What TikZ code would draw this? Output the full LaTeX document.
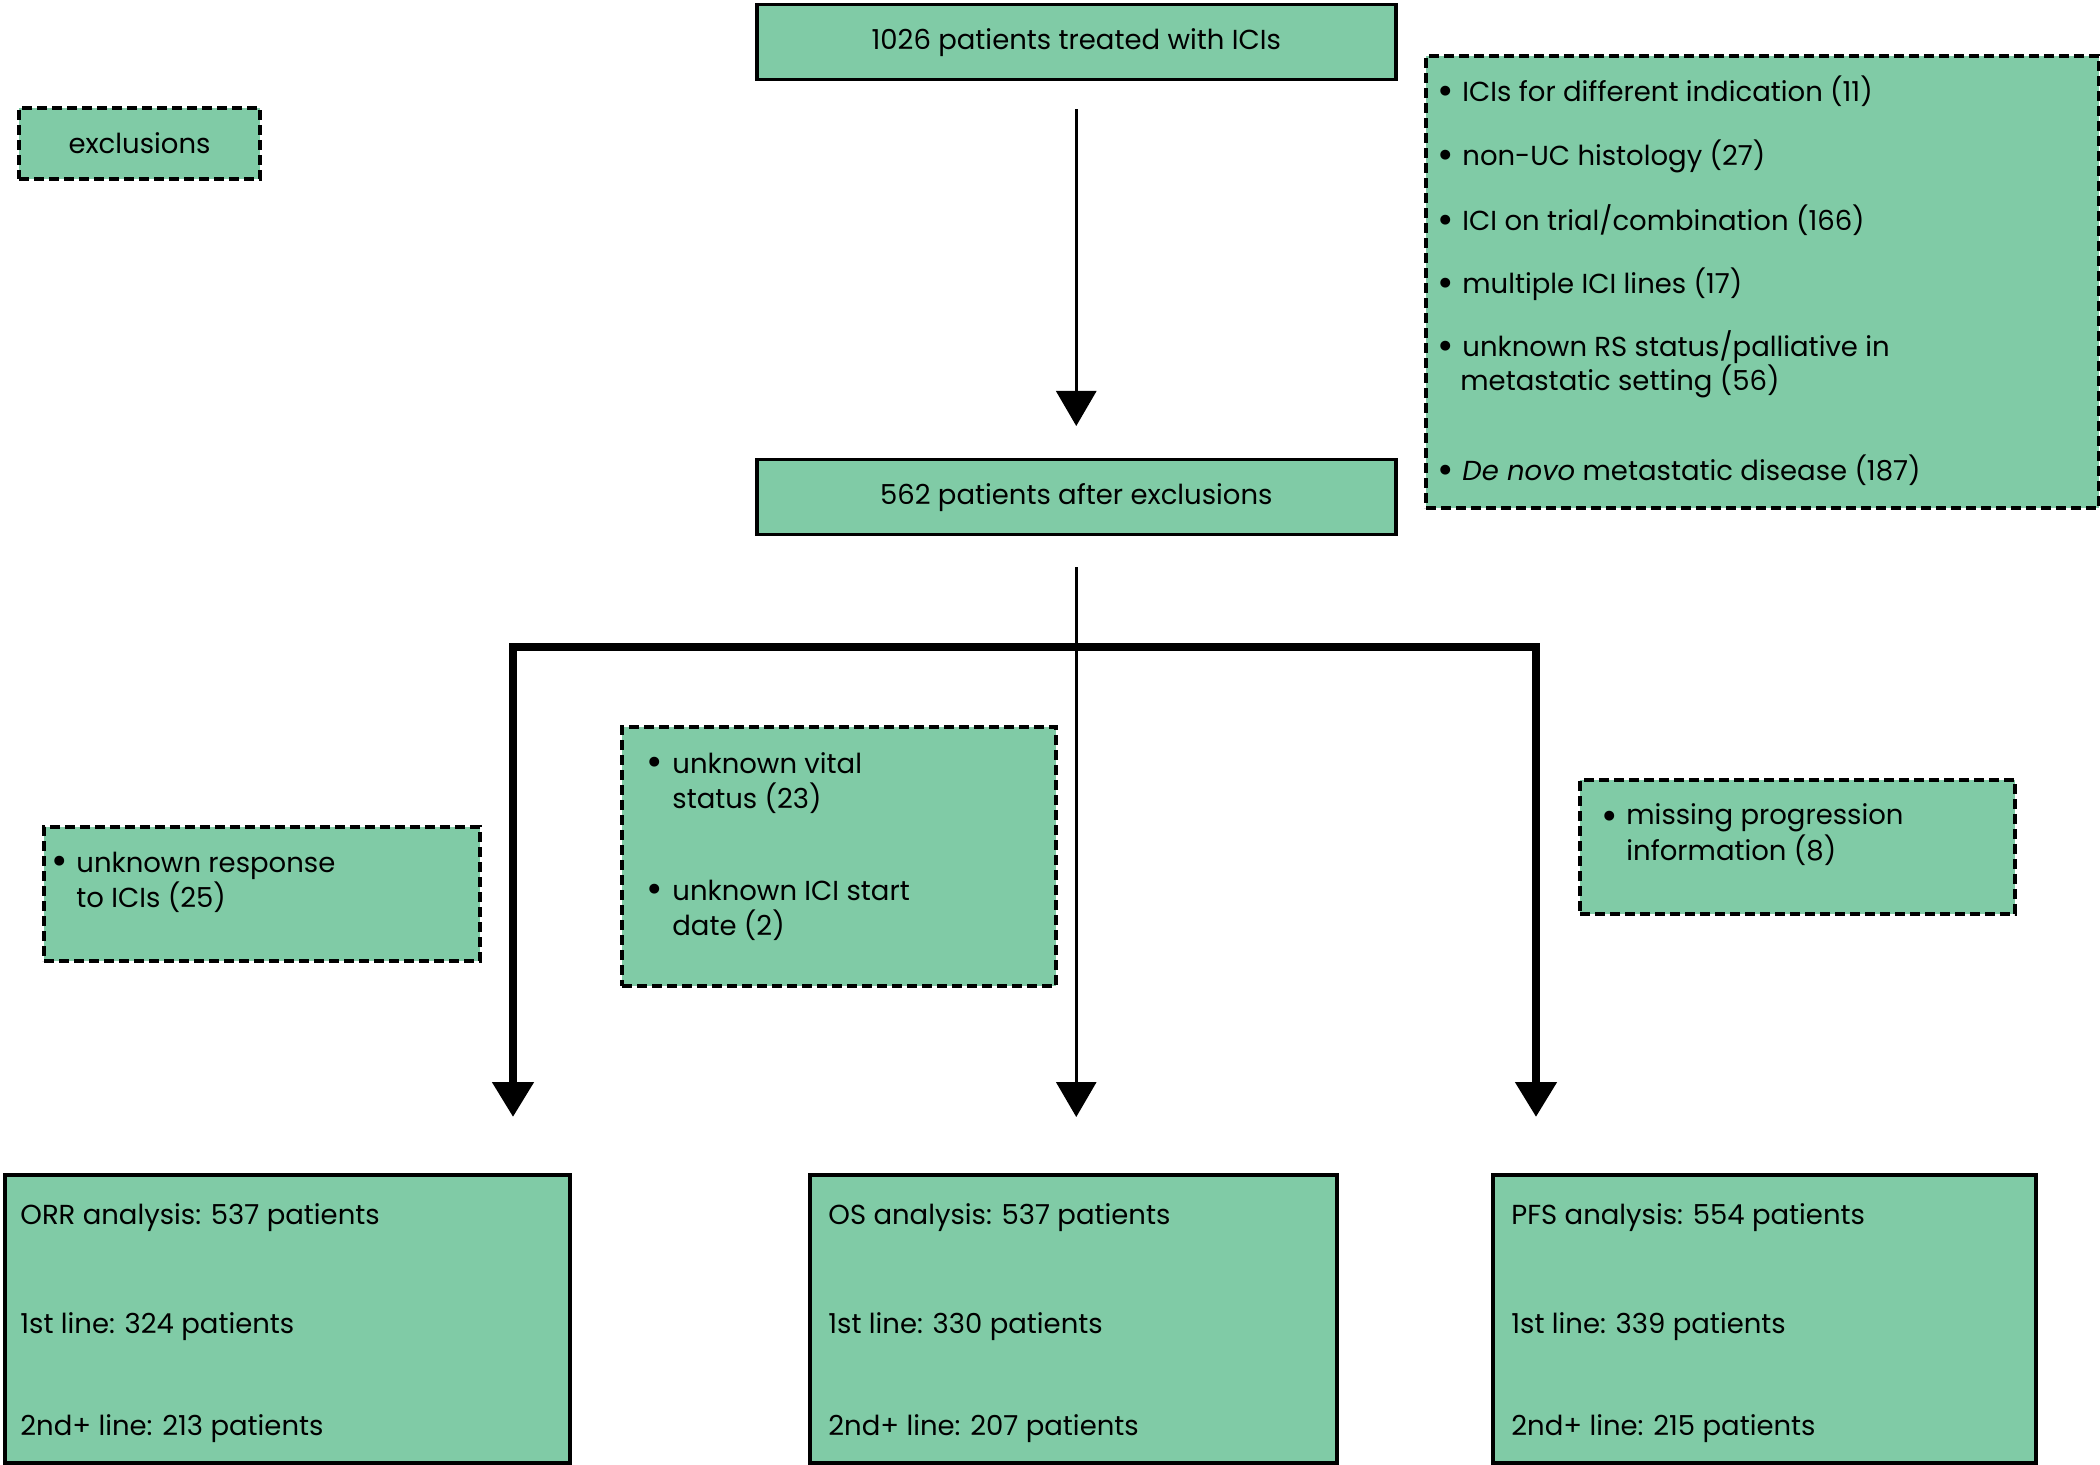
\documentclass[tikz,border=0pt]{standalone}
\usepackage{fontspec}
\setmainfont{Poppins}
\usetikzlibrary{arrows.meta}
\definecolor{boxgreen}{RGB}{128,203,166}
\begin{document}
\begin{tikzpicture}[x=0.5pt,y=-0.5pt,
  solidbox/.style={draw=black, fill=boxgreen, line width=1.75pt, inner sep=0pt, anchor=north west, font=\fontsize{13.75}{16}\selectfont},
  dashbox/.style={draw=black, fill=boxgreen, line width=2pt, dash pattern=on 5pt off 2.5pt, inner sep=0pt, anchor=north west, font=\fontsize{13.75}{16}\selectfont},
  lbl/.style={anchor=base west, inner sep=0pt, yshift=-1.5pt, align=left, font=\fontsize{13.75}{17.5}\selectfont},
  bul/.style={anchor=center, inner sep=0pt, yshift=-2.2pt, font=\fontsize{20}{20}\selectfont},
  thinarrow/.style={line width=1.5pt, -{Triangle[width=20pt,length=17.5pt]}},
  bar/.style={line width=4pt, {Triangle[width=20pt,length=17.5pt]}-{Triangle[width=20pt,length=17.5pt]}}
]
\useasboundingbox (0,0) rectangle (2100,1465);

% boxes
\node[solidbox, minimum width=319.5pt, minimum height=37.5pt] (top) at (755,3) {1026 patients treated with ICIs};
\node[solidbox, minimum width=319.5pt, minimum height=37.5pt] (mid) at (755,458) {562 patients after exclusions};
\node[dashbox, minimum width=120.5pt, minimum height=35.5pt] (excl) at (17,106) {exclusions};
\node[dashbox, minimum width=336.5pt, minimum height=226pt] (exlist) at (1424,54) {};
\node[dashbox, minimum width=218pt, minimum height=67pt] (exorr) at (42,825) {};
\node[dashbox, minimum width=217pt, minimum height=129.5pt] (exos) at (620,725) {};
\node[dashbox, minimum width=217.5pt, minimum height=67pt] (expfs) at (1578,778) {};
\node[solidbox, minimum width=282.5pt, minimum height=144pt] (orr) at (3,1173) {};
\node[solidbox, minimum width=263.5pt, minimum height=144pt] (os) at (808,1173) {};
\node[solidbox, minimum width=271.5pt, minimum height=144pt] (pfs) at (1491,1173) {};

% exclusion list (multi-line nodes are placed at the baseline of their last line)
\node[bul] (b1) at (1446,91) {•};
\node[lbl] (t1) at (1462,99) {ICIs for different indication (11)};
\node[bul] (b2) at (1446,155) {•};
\node[lbl] (t2) at (1462,163) {non-UC histology (27)};
\node[bul] (b3) at (1446,220) {•};
\node[lbl] (t3) at (1462,228) {ICI on trial/combination (166)};
\node[bul] (b4) at (1446,283) {•};
\node[lbl] (t4) at (1462,291) {multiple ICI lines (17)};
\node[bul] (b5) at (1446,346) {•};
\node[lbl, font=\fontsize{13.75}{17}\selectfont] (t5) at (1462,388) {unknown RS status/palliative in\\\hspace{-1pt}metastatic setting (56)};
\node[bul] (b6) at (1446,470) {•};
\node[lbl] (t6) at (1462,478) {\textit{De novo} metastatic disease (187)};

% left exclusion
\node[bul] (lb1) at (60,861) {•};
\node[lbl] (lt1) at (76,904) {unknown response\\to ICIs (25)};

% middle exclusion
\node[bul] (mb1) at (655,762) {•};
\node[lbl] (mt1) at (672,805) {unknown vital\\status (23)};
\node[bul] (mb2) at (655,889) {•};
\node[lbl] (mt2) at (672,932) {unknown ICI start\\date (2)};

% right exclusion
\node[bul] (rb1) at (1610,816) {•};
\node[lbl, font=\fontsize{13.75}{16.5}\selectfont] (rt1) at (1626,857) {missing progression\\information (8)};

% result boxes
\node[lbl] (o1) at (20,1221) {ORR analysis: 537 patients};
\node[lbl] (o2) at (20,1330) {1st line: 324 patients};
\node[lbl] (o3) at (20,1432) {2nd+ line: 213 patients};
\node[lbl] (s1) at (828,1221) {OS analysis: 537 patients};
\node[lbl] (s2) at (828,1330) {1st line: 330 patients};
\node[lbl] (s3) at (828,1432) {2nd+ line: 207 patients};
\node[lbl] (p1) at (1511,1221) {PFS analysis: 554 patients};
\node[lbl] (p2) at (1511,1330) {1st line: 339 patients};
\node[lbl] (p3) at (1511,1432) {2nd+ line: 215 patients};

% connectors
\draw[thinarrow, shorten <=14pt, shorten >=16pt] (top.south) -- (mid.north);
\draw[thinarrow, shorten <=15.5pt, shorten >=28pt] (mid.south) -- (mid.south |- os.north);
\coordinate (jl) at (513,647);
\coordinate (jr) at (1536,647);
\draw[bar, shorten <=28pt, shorten >=28pt] (jl |- orr.north) -- (jl) -- (jr) -- (jr |- pfs.north);
\end{tikzpicture}
\end{document}
